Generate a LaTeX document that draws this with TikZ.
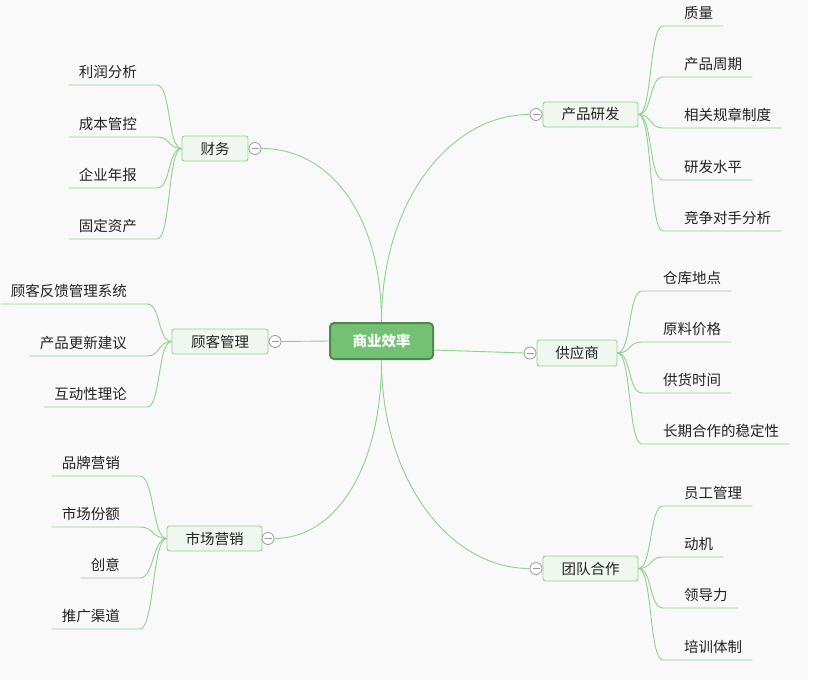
\documentclass[tikz,border=0pt]{standalone}
\usepackage{fontspec}
\newfontfamily\cjk{Noto Sans CJK SC}
\definecolor{bggray}{HTML}{F9F9F9}
\definecolor{corefill}{HTML}{74C174}
\definecolor{coreline}{HTML}{4E8A4E}
\definecolor{topicfill}{HTML}{EFF7EF}
\definecolor{topicline}{HTML}{93D193}
\definecolor{branch}{HTML}{8FCF8F}
\definecolor{togglegray}{HTML}{9A9A9A}
\definecolor{txt}{HTML}{222222}
\tikzset{
  core/.style={draw=coreline, fill=corefill, line width=2pt, rounded corners=4pt,
    minimum width=103pt, minimum height=36pt, inner sep=0pt, text=white,
    font=\cjk\bfseries\fontsize{14.5}{16}\selectfont},
  topic/.style={draw=topicline, fill=topicfill, line width=0.9pt, rounded corners=2.5pt,
    minimum height=25pt, inner sep=0pt, text=txt, font=\cjk\fontsize{14.5}{16}\selectfont},
  toggle/.style={circle, draw=togglegray, fill=white, line width=0.8pt,
    minimum size=12pt, inner sep=0pt,
    path picture={\draw[togglegray, line width=0.8pt]
      ([xshift=2.5pt]path picture bounding box.west) --
      ([xshift=-2.5pt]path picture bounding box.east);}},
  leafR/.style={anchor=south west, inner xsep=0pt, inner ysep=5.5pt,
    text height=10.5pt, text depth=2pt, text=txt, font=\cjk\fontsize{14.5}{16}\selectfont},
  leafL/.style={leafR, anchor=south east},
  trunk/.style={draw=branch, line width=0.9pt},
  twig/.style={draw=branch, line width=0.9pt},
}
\begin{document}
\begin{tikzpicture}[x=1pt, y=-1pt]
  % canvas
  \useasboundingbox (0,0) rectangle (825,680);
  \fill[bggray] (0,0) rectangle (808,680);

  % centre topic
  \node[core] (core) at (381.5,341) {商业效率};

  % main topics
  \node[topic, minimum width=66pt] (fin)  at (215,148.5) {财务};
  \node[topic, minimum width=96pt] (cus)  at (220,341.5) {顾客管理};
  \node[topic, minimum width=95pt] (mkt)  at (214.5,538.5) {市场营销};
  \node[topic, minimum width=95pt] (rd)   at (590.5,114.5) {产品研发};
  \node[topic, minimum width=80pt, minimum height=26pt] (sup) at (577,353) {供应商};
  \node[topic, minimum width=95pt] (team) at (590.5,568.5) {团队合作};

  % collapse toggles
  \node[toggle] (tfin)  at (255,148.5) {};
  \node[toggle] (tcus)  at (275,341.5) {};
  \node[toggle] (tmkt)  at (268,538.5) {};
  \node[toggle] (trd)   at (536,114.5) {};
  \node[toggle] (tsup)  at (530,353) {};
  \node[toggle] (tteam) at (536,568.5) {};

  % branches from the centre
  \draw[trunk] (core.north) .. controls +(0,-105) and +(70,0) .. (tfin.east);
  \draw[trunk] (core.north) .. controls +(0,-120) and +(-80,0) .. (trd.west);
  \draw[trunk] (core.west) -- (tcus.east);
  \draw[trunk] ([yshift=-9pt]core.east) -- (tsup.west);
  \draw[trunk] (core.south) .. controls +(0,110) and +(60,0) .. (tmkt.east);
  \draw[trunk] (core.south) .. controls +(0,120) and +(-80,0) .. (tteam.west);

  % 财务 leaves
  \node[leafL] (f1) at (137,85)  {利润分析};
  \node[leafL] (f2) at (137,137) {成本管控};
  \node[leafL] (f3) at (137,188) {企业年报};
  \node[leafL] (f4) at (137,239) {固定资产};
  \foreach \n in {f1,f2,f3,f4}
    \draw[twig] (fin.west) .. controls +(-14,0) and +(14,0) .. ([xshift=20pt]\n.south east) -- ([xshift=-10pt]\n.south west);

  % 顾客管理 leaves
  \node[leafL] (c1) at (127,304) {顾客反馈管理系统};
  \node[leafL] (c2) at (127,356) {产品更新建议};
  \node[leafL] (c3) at (127,407) {互动性理论};
  \foreach \n in {c1,c2,c3}
    \draw[twig] (cus.west) .. controls +(-14,0) and +(14,0) .. ([xshift=20pt]\n.south east) -- ([xshift=-10pt]\n.south west);

  % 市场营销 leaves
  \node[leafL] (m1) at (120,476) {品牌营销};
  \node[leafL] (m2) at (120,527) {市场份额};
  \node[leafL] (m3) at (120,578) {创意};
  \node[leafL] (m4) at (120,629) {推广渠道};
  \foreach \n in {m1,m2,m3,m4}
    \draw[twig] (mkt.west) .. controls +(-14,0) and +(14,0) .. ([xshift=20pt]\n.south east) -- ([xshift=-10pt]\n.south west);

  % 产品研发 leaves
  \node[leafR] (r1) at (684,26)  {质量};
  \node[leafR] (r2) at (684,77)  {产品周期};
  \node[leafR] (r3) at (684,128) {相关规章制度};
  \node[leafR] (r4) at (684,180) {研发水平};
  \node[leafR] (r5) at (684,231) {竞争对手分析};
  \foreach \n in {r1,r2,r3,r4,r5}
    \draw[twig] (rd.east) .. controls +(14,0) and +(-14,0) .. ([xshift=-21pt]\n.south west) -- ([xshift=10pt]\n.south east);

  % 供应商 leaves
  \node[leafR] (s1) at (663,291) {仓库地点};
  \node[leafR] (s2) at (663,342) {原料价格};
  \node[leafR] (s3) at (663,393) {供货时间};
  \node[leafR] (s4) at (663,444) {长期合作的稳定性};
  \foreach \n in {s1,s2,s3,s4}
    \draw[twig] (sup.east) .. controls +(14,0) and +(-14,0) .. ([xshift=-21pt]\n.south west) -- ([xshift=10pt]\n.south east);

  % 团队合作 leaves
  \node[leafR] (t1) at (684,506) {员工管理};
  \node[leafR] (t2) at (684,557) {动机};
  \node[leafR] (t3) at (684,608) {领导力};
  \node[leafR] (t4) at (684,660) {培训体制};
  \foreach \n in {t1,t2,t3,t4}
    \draw[twig] (team.east) .. controls +(14,0) and +(-14,0) .. ([xshift=-21pt]\n.south west) -- ([xshift=10pt]\n.south east);
\end{tikzpicture}
\end{document}
